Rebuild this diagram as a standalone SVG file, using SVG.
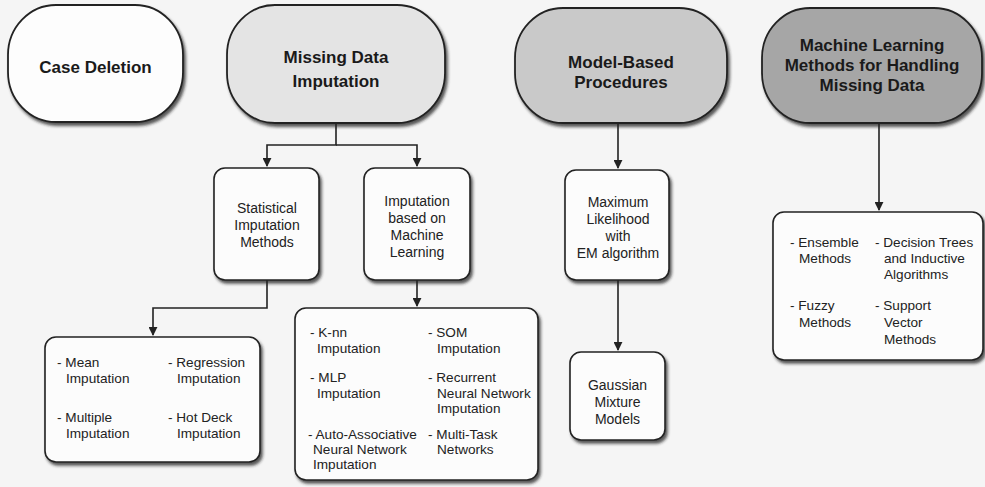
<svg xmlns="http://www.w3.org/2000/svg" width="985" height="487" viewBox="0 0 985 487">
<defs>
<filter id="sh" x="-10%" y="-10%" width="125%" height="130%">
<feDropShadow dx="2" dy="3" stdDeviation="1.4" flood-color="#222" flood-opacity="0.75"/>
</filter>
<marker id="arr" viewBox="0 0 10 10" refX="9" refY="5" markerWidth="9" markerHeight="9" markerUnits="userSpaceOnUse" orient="auto">
<path d="M0,0 L10,5 L0,10 z" fill="#222"/>
</marker>
<style>
.st{stroke:#222;stroke-width:1.8;filter:url(#sh)}
.box{fill:#fcfcfc;stroke:#222;stroke-width:1.6;filter:url(#sh)}
.h{font-family:"Liberation Sans",Arial,sans-serif;font-size:17px;font-weight:bold;fill:#1a1a1a;text-anchor:middle}
.c{font-family:"Liberation Sans",Arial,sans-serif;font-size:14px;fill:#222;text-anchor:middle}
.t{font-family:"Liberation Sans",Arial,sans-serif;font-size:13.6px;fill:#222}
.ln{fill:none;stroke:#222;stroke-width:1.6}
</style>
</defs>
<rect width="985" height="487" fill="#f5f5f5"/>

<g id="connectors">
<path class="ln" d="M336,123 V145 H267 V166" marker-end="url(#arr)"/>
<path class="ln" d="M336,145 H417 V166" marker-end="url(#arr)"/>
<path class="ln" d="M267,280 V308 H153 V335" marker-end="url(#arr)"/>
<path class="ln" d="M417,280 V306" marker-end="url(#arr)"/>
<path class="ln" d="M618,123 V168" marker-end="url(#arr)"/>
<path class="ln" d="M618,280 V350" marker-end="url(#arr)"/>
<path class="ln" d="M879,123 V210" marker-end="url(#arr)"/>
</g>

<g id="case-deletion">
<rect class="st" x="8" y="5" width="175" height="117" rx="48" ry="50" fill="#fdfdfd"/>
<text class="h" x="95.5" y="73">Case Deletion</text>
</g>

<g id="missing-data-imputation">
<rect class="st" x="227" y="5" width="218" height="118" rx="48" ry="50" fill="#e4e4e4"/>
<text class="h" x="336" y="63">Missing Data</text>
<text class="h" x="336" y="87">Imputation</text>
</g>

<g id="model-based">
<rect class="st" x="515" y="8" width="212" height="115" rx="48" ry="50" fill="#c9c9c9"/>
<text class="h" x="621" y="68">Model-Based</text>
<text class="h" x="621" y="88">Procedures</text>
</g>

<g id="ml-methods">
<rect class="st" x="762" y="8" width="220" height="115" rx="48" ry="50" fill="#a6a6a6"/>
<text class="h" x="872" y="51">Machine Learning</text>
<text class="h" x="872" y="71">Methods for Handling</text>
<text class="h" x="872" y="91">Missing Data</text>
</g>

<g id="statistical">
<rect class="box" x="214" y="168" width="105" height="112" rx="11"/>
<text class="c" x="267" y="213">Statistical</text>
<text class="c" x="267" y="230">Imputation</text>
<text class="c" x="267" y="247">Methods</text>
</g>

<g id="imputation-ml">
<rect class="box" x="364" y="168" width="106" height="112" rx="11"/>
<text class="c" x="417" y="206">Imputation</text>
<text class="c" x="417" y="223">based on</text>
<text class="c" x="417" y="240">Machine</text>
<text class="c" x="417" y="257">Learning</text>
</g>

<g id="max-likelihood">
<rect class="box" x="565" y="170" width="104" height="110" rx="11"/>
<text class="c" x="618" y="207">Maximum</text>
<text class="c" x="618" y="224">Likelihood</text>
<text class="c" x="618" y="241">with</text>
<text class="c" x="618" y="258">EM algorithm</text>
</g>

<g id="gaussian">
<rect class="box" x="570" y="352" width="95" height="88" rx="11"/>
<text class="c" x="617.5" y="390">Gaussian</text>
<text class="c" x="617.5" y="407">Mixture</text>
<text class="c" x="617.5" y="424">Models</text>
</g>

<g id="statistical-list">
<rect class="box" x="45" y="337" width="215" height="125" rx="11"/>
<text class="t" x="57" y="367">- Mean</text>
<text class="t" x="66" y="383">Imputation</text>
<text class="t" x="168" y="367">- Regression</text>
<text class="t" x="177" y="383">Imputation</text>
<text class="t" x="57" y="422">- Multiple</text>
<text class="t" x="66" y="438">Imputation</text>
<text class="t" x="168" y="422">- Hot Deck</text>
<text class="t" x="177" y="438">Imputation</text>
</g>

<g id="ml-imputation-list">
<rect class="box" x="295" y="308" width="243" height="172" rx="11"/>
<text class="t" x="310" y="337">- K-nn</text>
<text class="t" x="317" y="353">Imputation</text>
<text class="t" x="428" y="337">- SOM</text>
<text class="t" x="437" y="353">Imputation</text>
<text class="t" x="310" y="382">- MLP</text>
<text class="t" x="317" y="398">Imputation</text>
<text class="t" x="428" y="382">- Recurrent</text>
<text class="t" x="437" y="398">Neural Network</text>
<text class="t" x="437" y="413">Imputation</text>
<text class="t" x="308" y="439">- Auto-Associative</text>
<text class="t" x="313" y="454">Neural Network</text>
<text class="t" x="313" y="469">Imputation</text>
<text class="t" x="428" y="439">- Multi-Task</text>
<text class="t" x="437" y="454">Networks</text>
</g>

<g id="ml-methods-list">
<rect class="box" x="773" y="212" width="210" height="148" rx="11"/>
<text class="t" x="790" y="247">- Ensemble</text>
<text class="t" x="799" y="263">Methods</text>
<text class="t" x="875" y="247">- Decision Trees</text>
<text class="t" x="884" y="263">and Inductive</text>
<text class="t" x="884" y="279">Algorithms</text>
<text class="t" x="790" y="310">- Fuzzy</text>
<text class="t" x="799" y="327">Methods</text>
<text class="t" x="875" y="310">- Support</text>
<text class="t" x="884" y="327">Vector</text>
<text class="t" x="884" y="344">Methods</text>
</g>
</svg>
